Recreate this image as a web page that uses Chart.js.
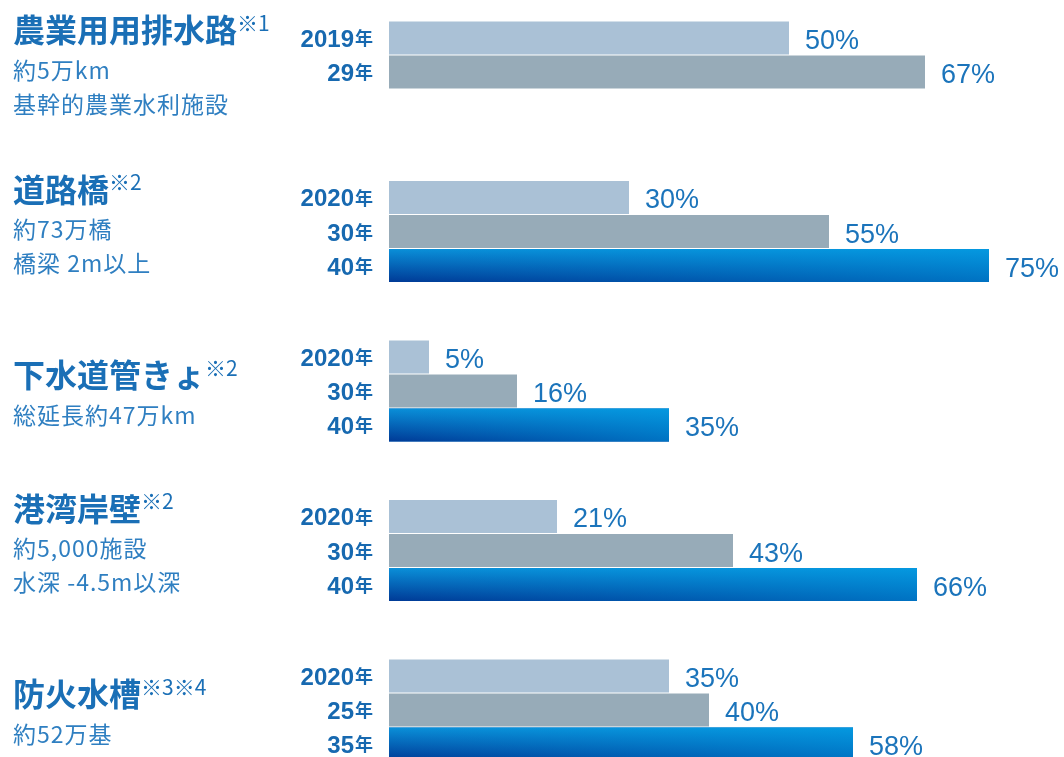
<!DOCTYPE html>
<html lang="ja">
<head>
  <meta charset="UTF-8">
  <title>建設後50年以上経過する施設の割合</title>
  <style>
    body {
      margin: 0;
      background: #fff;
    }
    #wrap {
      position: relative;
      width: 1064px;
      height: 757px;
    }
  </style>
</head>
<body>
  <div id="wrap"><canvas id="chart"></canvas></div>

  <script src="https://cdn.jsdelivr.net/npm/chart.js"></script>
  <script>
    // facilities (one category each)
    const facilities = ['農業用用排水路', '道路橋', '下水道管きょ', '港湾岸壁', '防火水槽'];
    const notes = ['※1', '※2', '※2', '※2', '※3※4'];
    const details = [
      ['約5万km', '基幹的農業水利施設'],
      ['約73万橋', '橋梁 2m以上'],
      ['総延長約47万km'],
      ['約5,000施設', '水深 -4.5m以深'],
      ['約52万基']
    ];

    // year labels for the three bars of each facility
    const firstYears = ['2019', '2020', '2020', '2020', '2020'];
    const midYears = ['29', '30', '30', '30', '25'];
    const lastYears = [null, '40', '40', '40', '35'];

    // share of facilities (%)
    const firstValues = [50, 30, 5, 21, 35];
    const midValues = [67, 55, 16, 43, 40];
    const lastValues = [null, 75, 35, 66, 58];

    const yearSets = [firstYears, midYears, lastYears];

    const TEXT_TITLE = '#1a6fb6';
    const TEXT_SUB = '#2f7fc1';
    const TEXT_YEAR = '#1769b0';
    const TEXT_VALUE = '#1b74bb';
    const CJK = '"Noto Sans CJK JP", sans-serif';
    const LATIN = '"Liberation Sans", Arial, sans-serif';

    // gradient fill for the newest-year bars
    const blueBars = {
      id: 'blueBars',
      afterDatasetDraw(chart, args) {
        if (args.index !== 2) return;
        const ctx = chart.ctx;
        ctx.save();
        args.meta.data.forEach((bar, i) => {
          if (lastValues[i] == null) return;
          const { x, y, base, height } = bar.getProps(['x', 'y', 'base', 'height'], true);
          const top = y - height / 2, bottom = y + height / 2;
          const v = ctx.createLinearGradient(0, top, 0, bottom);
          v.addColorStop(0, '#0a8fd8');
          v.addColorStop(1, '#003a96');
          ctx.fillStyle = v;
          ctx.fillRect(base, top, x - base, height);
          const h = ctx.createLinearGradient(base, 0, x, 0);
          h.addColorStop(0, 'rgba(0,160,230,0)');
          h.addColorStop(1, 'rgba(0,160,230,0.55)');
          ctx.fillStyle = h;
          ctx.fillRect(base, top, x - base, height);
        });
        ctx.restore();
      }
    };

    // facility names, year labels and value labels
    const labels = {
      id: 'labels',
      afterDraw(chart) {
        const ctx = chart.ctx;
        const yScale = chart.scales.y;
        ctx.save();

        facilities.forEach((name, i) => {
          const c = yScale.getPixelForValue(i);
          const n = details[i].length;
          const titleY = c - 16 - 26 * (n - 1);
          ctx.textAlign = 'left';
          ctx.textBaseline = 'middle';
          ctx.fillStyle = TEXT_TITLE;
          ctx.font = 'bold 32px ' + CJK;
          ctx.fillText(name, 13, titleY);
          const w = ctx.measureText(name).width;
          ctx.font = '21px ' + CJK;
          ctx.fillText(notes[i], 13 + w, titleY - 7);
          ctx.fillStyle = TEXT_SUB;
          ctx.font = '23px ' + CJK;
          ctx.letterSpacing = '1px';
          details[i].forEach((line, k) => {
            ctx.fillText(line, 13, titleY + 40 + 34 * k);
          });
          ctx.letterSpacing = '0px';
        });

        chart.data.datasets.forEach((ds, d) => {
          const meta = chart.getDatasetMeta(d);
          meta.data.forEach((bar, i) => {
            const value = ds.data[i];
            if (value == null) return;
            const { x, y } = bar.getProps(['x', 'y'], true);

            // year label, right aligned left of the bars
            ctx.fillStyle = TEXT_YEAR;
            ctx.textBaseline = 'middle';
            ctx.textAlign = 'right';
            ctx.font = 'bold 18px ' + CJK;
            ctx.fillText('年', 373, y + 0.5);
            const kw = ctx.measureText('年').width;
            ctx.textBaseline = 'alphabetic';
            ctx.font = 'bold 24px ' + LATIN;
            ctx.fillText(yearSets[d][i], 373 - kw - 1, y + 9);

            // value label after the bar end
            ctx.fillStyle = TEXT_VALUE;
            ctx.textAlign = 'left';
            ctx.font = '27px ' + LATIN;
            ctx.fillText(value + '%', x + 16, y + 11);
          });
        });

        ctx.restore();
      }
    };

    const barStyle = {
      borderWidth: 0,
      categoryPercentage: 0.6395,
      barPercentage: 0.97,
      clip: false
    };

    new Chart(document.getElementById('chart'), {
      type: 'bar',
      data: {
        labels: facilities,
        datasets: [
          { label: '第1年', data: firstValues, backgroundColor: '#aac1d6', ...barStyle },
          { label: '第2年', data: midValues, backgroundColor: '#97abb8', ...barStyle },
          { label: '第3年', data: lastValues, backgroundColor: '#0a6cc0', ...barStyle }
        ]
      },
      options: {
        indexAxis: 'y',
        responsive: true,
        maintainAspectRatio: false,
        animation: false,
        layout: {
          padding: { left: 389, right: 3, top: 72, bottom: 47 }
        },
        scales: {
          x: { display: false, min: 0, max: 84 },
          y: { display: false, offset: false }
        },
        plugins: {
          legend: { display: false },
          tooltip: { enabled: false }
        }
      },
      plugins: [blueBars, labels]
    });
  </script>
</body>
</html>
